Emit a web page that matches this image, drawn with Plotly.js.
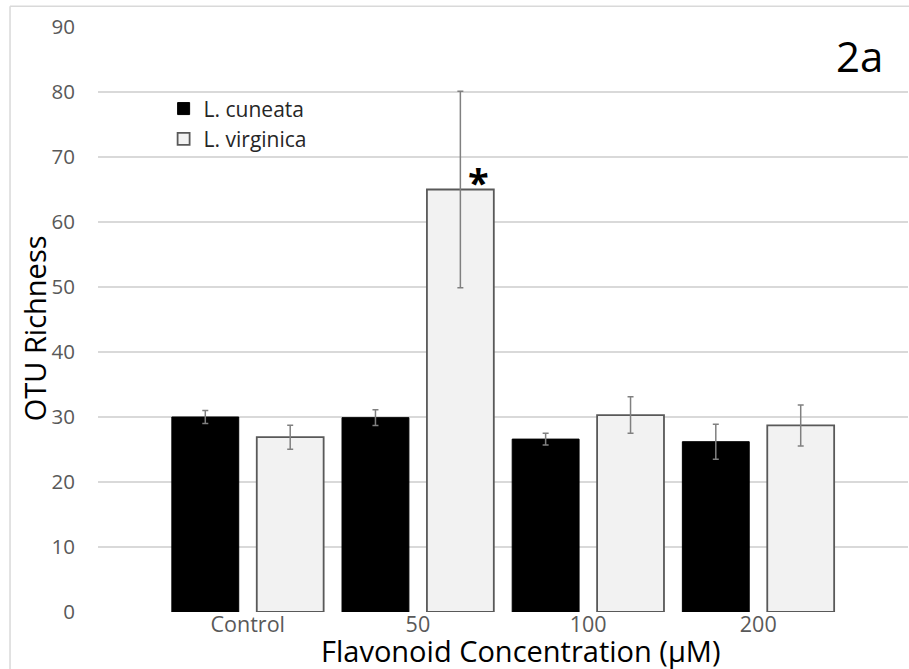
<!DOCTYPE html>
<html>
<head>
<meta charset="utf-8">
<script src="https://cdn.plot.ly/plotly-3.0.1.min.js"></script>
<style>html,body{margin:0;padding:0;background:#fff;}#chart{width:909px;height:669px;}</style>
</head>
<body>
<div id="chart"></div>
<script>
// ---- data ----
const categories = ["Control", "50", "100", "200"];
const seriesNames = ["L. cuneata", "L. virginica"];
const cuneata = [30.0, 29.9, 26.6, 26.2];
const cuneataErr = [1.0, 1.2, 0.9, 2.7];
const virginica = [26.9, 65.0, 30.3, 28.7];
const virginicaErr = [1.85, 15.1, 2.8, 3.15];
const yTicks = [0, 10, 20, 30, 40, 50, 60, 70, 80, 90];
const markText = "*";
const markIndex = 1;

const barW = 0.393, halfGap = 0.053;
const errStyle = {type: "data", color: "#808080", thickness: 1.5, width: 3, visible: true};

const traces = [
  {
    type: "bar", name: seriesNames[0], x: categories, y: cuneata,
    width: barW, offset: -(barW + halfGap),
    marker: {color: "#000000", line: {color: "#000000", width: 1}},
    error_y: Object.assign({array: cuneataErr}, errStyle),
    hoverinfo: "y"
  },
  {
    type: "bar", name: seriesNames[1], x: categories, y: virginica,
    width: barW, offset: halfGap,
    marker: {color: "#f2f2f2", line: {color: "#595959", width: 1.8}},
    error_y: Object.assign({array: virginicaErr}, errStyle),
    hoverinfo: "y"
  }
];

const font = "'Open Sans', 'Noto Sans', sans-serif";

const layout = {
  width: 909, height: 669,
  margin: {l: 98, r: 1, t: 27, b: 57, pad: 0},
  paper_bgcolor: "#ffffff", plot_bgcolor: "#ffffff",
  barmode: "overlay",
  showlegend: true,
  font: {family: font, color: "#595959"},
  xaxis: {
    type: "category", range: [-0.88, 3.88], fixedrange: true,
    showgrid: false, zeroline: false, showline: false, ticks: "",
    ticklabelstandoff: -3,
    tickfont: {size: 21.5, color: "#595959", family: font}
  },
  yaxis: {
    range: [0, 90], tickvals: yTicks, fixedrange: true,
    showgrid: true, gridcolor: "#d9d9d9", gridwidth: 1.5,
    zeroline: false, showline: false, ticks: "",
    ticklabelstandoff: 22,
    tickfont: {size: 20.5, color: "#595959", family: font}
  },
  legend: {
    x: 0.081, y: 0.895, xanchor: "left", yanchor: "top",
    bgcolor: "rgba(0,0,0,0)", borderwidth: 0,
    font: {size: 21, color: "#262626", family: font},
    itemwidth: 30, traceorder: "normal"
  },
  annotations: [
    {text: "Flavonoid Concentration (µM)", xref: "paper", yref: "paper",
     x: 0.522, y: -0.066, xanchor: "center", yanchor: "middle", showarrow: false,
     font: {size: 29, color: "#000000", family: font}},
    {text: "OTU Richness", xref: "paper", yref: "paper", textangle: -90,
     x: -0.079, y: 0.485, xanchor: "center", yanchor: "middle", showarrow: false,
     font: {size: 29, color: "#000000", family: font}},
    {text: "2a", xref: "paper", yref: "paper",
     x: 0.9405, y: 0.951, xanchor: "center", yanchor: "middle", showarrow: false,
     font: {size: 42, color: "#000000", family: font}},
    {text: markText, xref: "x", yref: "y",
     x: markIndex + 0.358, y: virginica[markIndex], xanchor: "center", yanchor: "bottom",
     showarrow: false, yshift: -20,
     font: {size: 38, color: "#000000", family: font, weight: "bold"}}
  ],
  shapes: [
    {type: "line", xref: "paper", yref: "paper", x0: -0.1086, x1: -0.1086, y0: -0.2, y1: 1.0354,
     line: {color: "#d9d9d9", width: 1.5}},
    {type: "line", xref: "paper", yref: "paper", x0: -0.1086, x1: 1.2, y0: 1.0354, y1: 1.0354,
     line: {color: "#d9d9d9", width: 1.5}}
  ]
};

Plotly.newPlot("chart", traces, layout, {displayModeBar: false, staticPlot: true});
</script>
</body>
</html>
